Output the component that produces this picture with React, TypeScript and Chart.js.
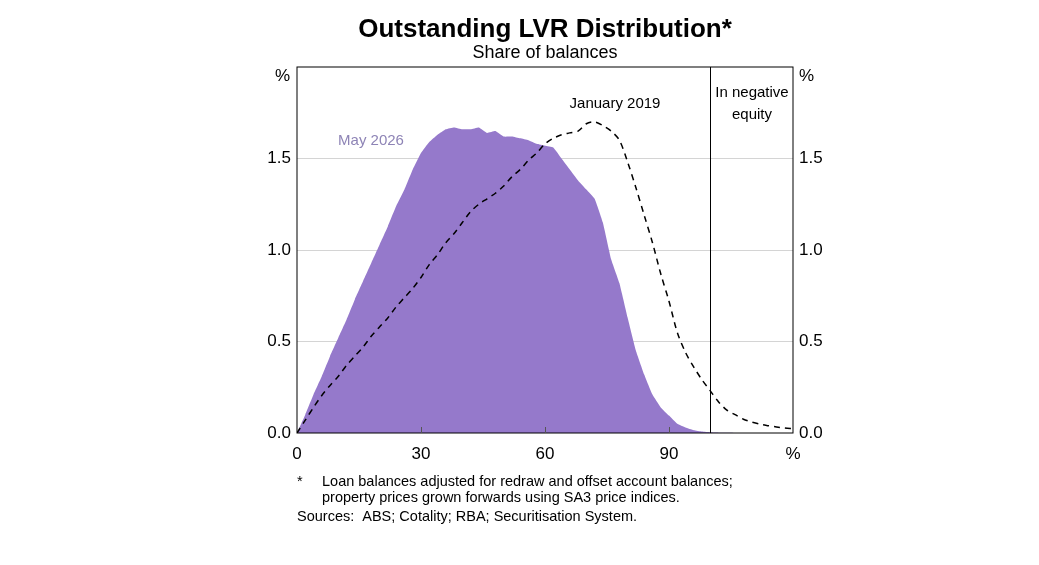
import { useEffect, useRef } from "react";
import { Chart, registerables } from "chart.js";

Chart.register(...registerables);

// LVR buckets, per cent
const lvr = [
  0, 2, 4, 6, 8, 10, 12, 14, 16, 18, 20, 22, 24, 26, 28, 30, 32, 34, 36, 38, 40,
  42, 44, 46, 48, 50, 52, 54, 56, 58, 60, 62, 64, 66, 68, 70, 72, 74, 76, 78, 80,
  82, 84, 86, 88, 90, 92, 94, 96, 98, 100, 102, 104, 106, 108, 110, 112, 114, 116, 118, 120,
];

// share of balances, per cent
const may2026 = [
  0, 0.1, 0.21, 0.31, 0.42, 0.52, 0.62, 0.73, 0.83, 0.93, 1.03, 1.13, 1.24, 1.33, 1.44, 1.53,
  1.59, 1.63, 1.66, 1.67, 1.66, 1.66, 1.67, 1.64, 1.65, 1.62, 1.62, 1.61, 1.6, 1.58, 1.57,
  1.56, 1.5, 1.44, 1.38, 1.33, 1.28, 1.15, 0.95, 0.82, 0.63, 0.45, 0.32, 0.21, 0.14, 0.095,
  0.05, 0.03, 0.015, 0.008, 0.004, 0.002, 0.001, 0, 0, 0, 0, 0, 0, 0, 0,
];

const jan2019 = [
  0, 0.07, 0.14, 0.205, 0.26, 0.31, 0.37, 0.42, 0.47, 0.53, 0.58, 0.63, 0.69, 0.74, 0.79, 0.85,
  0.92, 0.975, 1.04, 1.09, 1.15, 1.21, 1.25, 1.28, 1.31, 1.35, 1.4, 1.44, 1.49, 1.53, 1.58,
  1.61, 1.63, 1.64, 1.65, 1.69, 1.7, 1.68, 1.65, 1.6, 1.48, 1.34, 1.19, 1.04, 0.87, 0.72,
  0.55, 0.44, 0.36, 0.29, 0.23, 0.17, 0.125, 0.1, 0.075, 0.06, 0.048, 0.04, 0.033, 0.027, 0.024,
];

const xTicks = [0, 30, 60, 90, 120];
const yTicks = [0, 0.5, 1, 1.5, 2];

const FONT = "'Liberation Sans', Arial, sans-serif";

const textPlugin = {
  id: "texts",
  afterDraw(chart: Chart) {
    const { ctx, chartArea, scales } = chart;
    const x = scales.x;
    ctx.save();

    // plot frame
    ctx.strokeStyle = "#000";
    ctx.lineWidth = 1;
    ctx.strokeRect(chartArea.left, chartArea.top, chartArea.right - chartArea.left, chartArea.bottom - chartArea.top);

    // negative equity boundary
    const x100 = Math.round(x.getPixelForValue(100)) + 0.5;
    ctx.beginPath();
    ctx.moveTo(x100, chartArea.top);
    ctx.lineTo(x100, chartArea.bottom);
    ctx.stroke();

    // inner ticks on x axis
    ctx.strokeStyle = "#555";
    [30, 60, 90].forEach((v) => {
      const px = Math.round(x.getPixelForValue(v)) + 0.5;
      ctx.beginPath();
      ctx.moveTo(px, chartArea.bottom);
      ctx.lineTo(px, chartArea.bottom - 6);
      ctx.stroke();
    });

    ctx.fillStyle = "#000";
    ctx.textBaseline = "middle";
    ctx.textAlign = "center";
    ctx.font = `bold 26px ${FONT}`;
    ctx.fillText("Outstanding LVR Distribution*", 545, 30);
    ctx.font = `18px ${FONT}`;
    ctx.fillText("Share of balances", 545, 53);

    // axis unit labels
    ctx.font = `17px ${FONT}`;
    ctx.textAlign = "right";
    ctx.fillText("%", 290, 76);
    ctx.textAlign = "left";
    ctx.fillText("%", 799, 76);

    // series labels
    ctx.font = `15px ${FONT}`;
    ctx.textAlign = "center";
    ctx.fillStyle = "#8e84b6";
    ctx.fillText("May 2026", 371, 141);
    ctx.fillStyle = "#000";
    ctx.fillText("January 2019", 615, 104);
    ctx.fillText("In negative", 752, 93);
    ctx.fillText("equity", 752, 115);

    // footnotes
    ctx.font = `14.5px ${FONT}`;
    ctx.textAlign = "left";
    ctx.fillText("*", 297, 482);
    ctx.fillText("Loan balances adjusted for redraw and offset account balances;", 322, 482);
    ctx.fillText("property prices grown forwards using SA3 price indices.", 322, 498);
    ctx.fillText("Sources:  ABS; Cotality; RBA; Securitisation System.", 297, 517);

    ctx.restore();
  },
};

export default function App() {
  const chartRef = useRef<HTMLCanvasElement>(null);
  const chartInstance = useRef<Chart | null>(null);

  useEffect(() => {
    document.body.style.margin = "0";
    if (chartRef.current) {
      const ctx = chartRef.current.getContext("2d");
      if (ctx) {
        if (chartInstance.current) {
          chartInstance.current.destroy();
        }

        const yTickOpts = {
          color: "#000",
          font: { family: FONT, size: 17 },
          padding: 6,
          callback: (value: any) => (Number(value) === 2 ? "" : Number(value).toFixed(1)),
        };

        chartInstance.current = new Chart(ctx, {
          type: "line",
          data: {
            datasets: [
              {
                label: "January 2019",
                data: lvr.map((v, i) => ({ x: v, y: jan2019[i] })),
                borderColor: "#000",
                borderWidth: 1.5,
                borderDash: [6, 5],
                pointRadius: 0,
                fill: false,
                tension: 0.3,
              },
              {
                label: "May 2026",
                data: lvr.map((v, i) => ({ x: v, y: may2026[i] })),
                borderColor: "#9579cb",
                backgroundColor: "#9579cb",
                borderWidth: 0,
                pointRadius: 0,
                fill: "origin",
                tension: 0.1,
              },
            ],
          },
          options: {
            animation: false,
            responsive: false,
            events: [],
            layout: { padding: { top: 67, left: 0, right: 0, bottom: 0 } },
            plugins: {
              legend: { display: false },
              tooltip: { enabled: false },
            },
            scales: {
              x: {
                type: "linear",
                min: 0,
                max: 120,
                afterFit: (scale: any) => {
                  scale.height = 132;
                },
                afterBuildTicks: (scale: any) => {
                  scale.ticks = xTicks.map((v) => ({ value: v }));
                },
                grid: { display: false },
                border: { display: false },
                ticks: {
                  color: "#000",
                  font: { family: FONT, size: 17 },
                  padding: 3,
                  maxRotation: 0,
                  autoSkip: false,
                  callback: (value: any) => (Number(value) === 120 ? "%" : String(value)),
                },
              },
              y: {
                position: "left",
                min: 0,
                max: 2,
                afterFit: (scale: any) => {
                  scale.width = 297;
                },
                afterBuildTicks: (scale: any) => {
                  scale.ticks = yTicks.map((v) => ({ value: v }));
                },
                grid: {
                  drawTicks: false,
                  color: (c: any) =>
                    c.tick && c.tick.value > 0 && c.tick.value < 2 ? "#d4d4d4" : "rgba(0,0,0,0)",
                },
                border: { display: false },
                ticks: yTickOpts,
              },
              y2: {
                position: "right",
                min: 0,
                max: 2,
                afterFit: (scale: any) => {
                  scale.width = 246;
                },
                afterBuildTicks: (scale: any) => {
                  scale.ticks = yTicks.map((v) => ({ value: v }));
                },
                grid: { display: false, drawTicks: false },
                border: { display: false },
                ticks: yTickOpts,
              },
            },
          },
          plugins: [textPlugin],
        });
      }
    }

    return () => {
      if (chartInstance.current) {
        chartInstance.current.destroy();
        chartInstance.current = null;
      }
    };
  }, []);

  return (
    <div style={{ position: "relative", width: 1039, height: 565, background: "#fff" }}>
      <canvas ref={chartRef} width={1039} height={565}></canvas>
    </div>
  );
}
